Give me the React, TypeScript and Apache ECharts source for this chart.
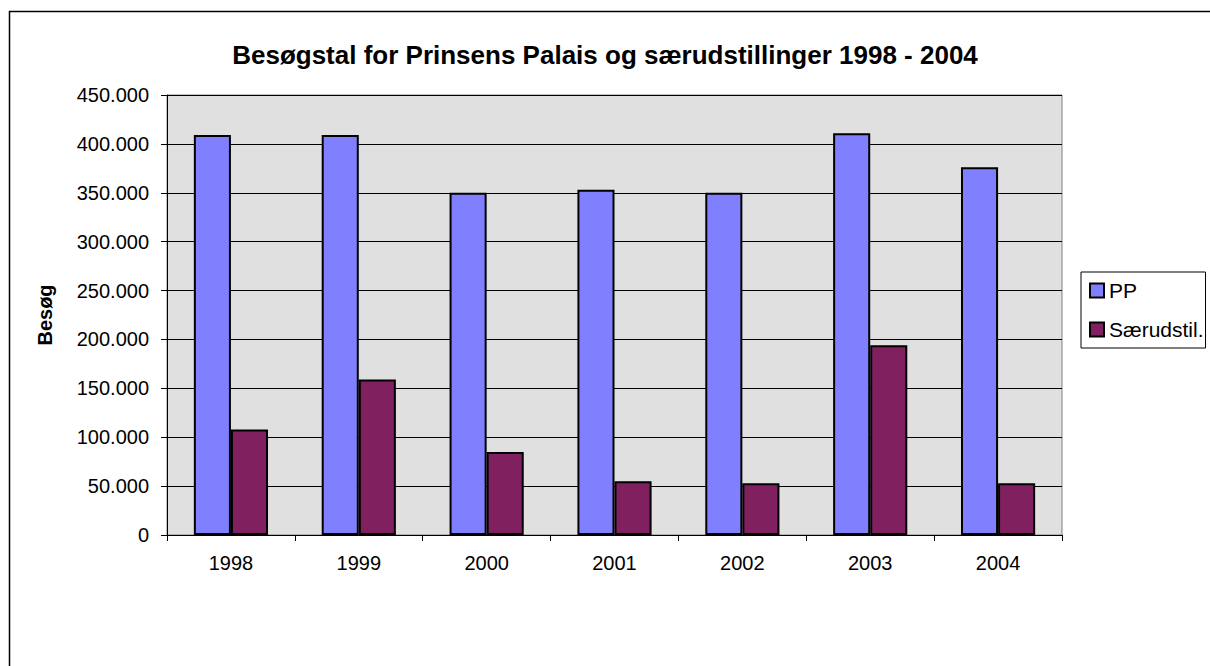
import React, { useEffect, useRef } from "react";
import * as echarts from "echarts";

const categories = ["1998", "1999", "2000", "2001", "2002", "2003", "2004"];
const ppValues = [409000, 409000, 350000, 353000, 350000, 411000, 376000];
const saerValues = [108000, 159000, 85000, 55000, 53000, 194000, 53000];
const seriesNames = ["PP", "Særudstil."];
const titleText = "Besøgstal for Prinsens Palais og særudstillinger 1998 - 2004";
const yAxisName = "Besøg";

const FONT = "'Liberation Sans', Arial, sans-serif";

function fmt(v: number): string {
  return String(Math.round(v)).replace(/\B(?=(\d{3})+(?!\d))/g, ".");
}

export default function App() {
  const ref = useRef<HTMLDivElement>(null);
  useEffect(() => {
    document.body.style.margin = "0";
    const chart = echarts.init(ref.current!, null, { renderer: "svg" });
    chart.setOption({
      animation: false,
      backgroundColor: "#ffffff",
      textStyle: { fontFamily: FONT },
      title: {
        text: titleText,
        left: "center",
        top: 37,
        textStyle: { fontFamily: FONT, fontSize: 26, fontWeight: "bold", color: "#000" },
      },
      graphic: [
        {
          type: "rect",
          shape: { x: 9.5, y: 11.5, width: 1400, height: 1000 },
          style: { fill: "none", stroke: "#000", lineWidth: 1.5 },
          silent: true,
          z: 100,
        },
      ],
      legend: {
        orient: "vertical",
        left: 1081,
        top: 272,
        padding: [8, 2, 8, 8],
        borderColor: "#000",
        borderWidth: 1,
        itemWidth: 14,
        itemHeight: 14,
        itemGap: 18,
        icon: "rect",
        textStyle: { fontFamily: FONT, fontSize: 21, color: "#000" },
        data: seriesNames,
      },
      grid: {
        left: 167,
        right: 148,
        top: 95,
        bottom: 131,
        show: true,
        backgroundColor: "#e0e0e0",
        borderColor: "#808080",
        borderWidth: 1,
      },
      xAxis: {
        type: "category",
        data: categories,
        boundaryGap: true,
        axisLine: { lineStyle: { color: "#000", width: 1 } },
        axisTick: { show: true, length: 6, alignWithLabel: false, lineStyle: { color: "#000" } },
        axisLabel: { margin: 18, fontSize: 20, color: "#000", fontFamily: FONT },
      },
      yAxis: {
        type: "value",
        min: 0,
        max: 450000,
        interval: 50000,
        name: yAxisName,
        nameLocation: "middle",
        nameGap: 112,
        nameTextStyle: { fontFamily: FONT, fontSize: 20, fontWeight: "bold", color: "#000" },
        axisLine: { show: true, lineStyle: { color: "#000", width: 1 } },
        axisTick: { show: true, length: 6, lineStyle: { color: "#000" } },
        axisLabel: { margin: 18, fontSize: 20, color: "#000", fontFamily: FONT, formatter: fmt },
        splitLine: { show: true, lineStyle: { color: "#000", width: 1 } },
      },
      series: [
        {
          name: seriesNames[0],
          type: "bar",
          data: ppValues,
          barGap: "0%",
          barCategoryGap: "42%",
          itemStyle: { color: "#8080ff", borderColor: "#000", borderWidth: 2 },
        },
        {
          name: seriesNames[1],
          type: "bar",
          data: saerValues,
          barGap: "0%",
          barCategoryGap: "42%",
          itemStyle: { color: "#80205f", borderColor: "#000", borderWidth: 2 },
        },
      ],
    });
    return () => chart.dispose();
  }, []);
  return <div ref={ref} style={{ width: 1210, height: 666 }} />;
}
